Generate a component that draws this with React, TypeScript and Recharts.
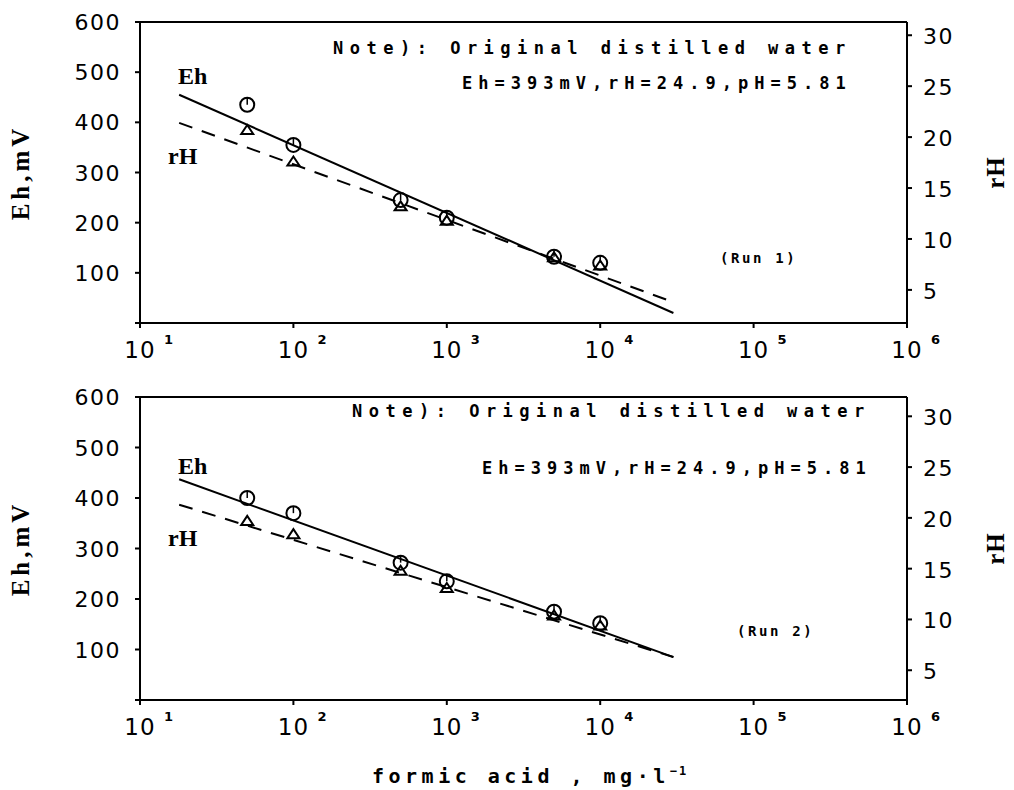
import React from 'react';
import {
  ComposedChart,
  Line,
  Scatter,
  XAxis,
  YAxis,
  ReferenceLine,
} from 'recharts';

// formic acid concentration, mg/l (log axis)
const xTicks = [10, 100, 1000, 10000, 100000, 1000000];
const concentrations = [50, 100, 500, 1000, 5000, 10000];
const fitRange = [18, 30000];

const ehTicks = [0, 100, 200, 300, 400, 500, 600];
const rhTicks = [5, 10, 15, 20, 25, 30];

// Run 1
const ehRun1 = [435, 355, 245, 210, 132, 120];
const rhRun1 = [20.7, 17.6, 13.2, 11.8, 8.2, 7.4];
const ehFitRun1 = [455, 20];
const rhFitRun1 = [21.4, 3.8];

// Run 2
const ehRun2 = [400, 370, 272, 235, 175, 152];
const rhRun2 = [19.7, 18.4, 14.8, 13.1, 10.4, 9.4];
const ehFitRun2 = [437, 85];
const rhFitRun2 = [21.3, 6.3];

const toPoints = (xs: number[], ys: number[]) => xs.map((x, i) => ({ x, y: ys[i] }));

const monoBold = '"DejaVu Sans Mono", monospace';
const serifBold = '"Liberation Serif", serif';
const tickFont = '"DejaVu Sans", sans-serif';

const CircleMark = (props: any) => {
  const { cx, cy } = props;
  if (cx == null || cy == null) return null;
  return (
    <g>
      <circle cx={cx} cy={cy} r={7} fill="none" stroke="#000" strokeWidth={2} />
      <line x1={cx} y1={cy - 7} x2={cx} y2={cy} stroke="#000" strokeWidth={1.5} />
    </g>
  );
};

const TriangleMark = (props: any) => {
  const { cx, cy } = props;
  if (cx == null || cy == null) return null;
  return (
    <polygon
      points={`${cx},${cy - 5} ${cx - 6},${cy + 4} ${cx + 6},${cy + 4}`}
      fill="none"
      stroke="#000"
      strokeWidth={2}
    />
  );
};

const PowerTick = (props: any) => {
  const { x, y, payload } = props;
  const exp = Math.round(Math.log10(payload.value));
  return (
    <g>
      <text x={x} y={y + 28} textAnchor="middle" fontFamily={tickFont} fontSize={23} letterSpacing={1} fill="#000">
        10
      </text>
      <text x={x + 24} y={y + 14} fontFamily={tickFont} fontSize={13} fontWeight="bold" fill="#000">
        {exp}
      </text>
    </g>
  );
};

const EhTick = (props: any) => {
  const { x, y, payload } = props;
  if (payload.value === 0) return null;
  return (
    <text x={x - 12} y={y + 8} textAnchor="end" fontFamily={tickFont} fontSize={22} letterSpacing={1.5} fill="#000">
      {payload.value}
    </text>
  );
};

const RhTick = (props: any) => {
  const { x, y, payload } = props;
  return (
    <text x={x + 9} y={y + 9} textAnchor="start" fontFamily={tickFont} fontSize={22} letterSpacing={1.5} fill="#000">
      {payload.value}
    </text>
  );
};

interface PanelProps {
  top: number;
  height: number;
  margin: { top: number; right: number; bottom: number; left: number };
  eh: number[];
  rh: number[];
  ehFit: number[];
  rhFit: number[];
  rhDomain: number[];
  run: string;
  notePos: { noteX: number; noteY: number; valX: number; valY: number; runX: number; runY: number; ehY: number; rhY: number };
}

function Panel({ top, height, margin, eh, rh, ehFit, rhFit, rhDomain, run, notePos }: PanelProps) {
  const textBase: React.CSSProperties = { position: 'absolute', whiteSpace: 'nowrap', color: '#000', lineHeight: 1 };
  return (
    <div style={{ position: 'absolute', left: 0, top, width: 1014, height }}>
      <ComposedChart width={1014} height={height} margin={margin}>
        <XAxis
          xAxisId="x"
          type="number"
          dataKey="x"
          scale="log"
          domain={[10, 1000000]}
          allowDataOverflow
          ticks={xTicks}
          tick={<PowerTick />}
          tickSize={5}
          height={40}
          stroke="#000"
          strokeWidth={2}
          interval={0}
        />
        <YAxis
          yAxisId="left"
          type="number"
          domain={[0, 600]}
          ticks={ehTicks}
          tick={<EhTick />}
          tickSize={5}
          width={120}
          stroke="#000"
          strokeWidth={2}
          interval={0}
          label={{
            value: 'Eh,mV',
            angle: -90,
            position: 'insideLeft',
            offset: 0,
            style: { fontFamily: serifBold, fontWeight: 'bold', fontSize: 25, letterSpacing: 4, fill: '#000', textAnchor: 'middle' },
          }}
        />
        <YAxis
          yAxisId="right"
          orientation="right"
          type="number"
          domain={rhDomain}
          allowDataOverflow
          ticks={rhTicks}
          tick={<RhTick />}
          tickSize={5}
          width={100}
          stroke="#000"
          strokeWidth={2}
          interval={0}
          label={{
            value: 'rH',
            angle: -90,
            position: 'insideRight',
            offset: 12,
            style: { fontFamily: serifBold, fontWeight: 'bold', fontSize: 25, letterSpacing: 1, fill: '#000', textAnchor: 'middle' },
          }}
        />
        <ReferenceLine xAxisId="x" yAxisId="left" y={600} stroke="#000" strokeWidth={2} />
        <Line
          xAxisId="x"
          yAxisId="left"
          data={toPoints(fitRange, ehFit)}
          dataKey="y"
          type="linear"
          stroke="#000"
          strokeWidth={2}
          dot={false}
          activeDot={false}
          isAnimationActive={false}
        />
        <Line
          xAxisId="x"
          yAxisId="right"
          data={toPoints(fitRange, rhFit)}
          dataKey="y"
          type="linear"
          stroke="#000"
          strokeWidth={2}
          strokeDasharray="14 10"
          dot={false}
          activeDot={false}
          isAnimationActive={false}
        />
        <Scatter
          xAxisId="x"
          yAxisId="left"
          data={toPoints(concentrations, eh)}
          dataKey="y"
          shape={<CircleMark />}
          isAnimationActive={false}
        />
        <Scatter
          xAxisId="x"
          yAxisId="right"
          data={toPoints(concentrations, rh)}
          dataKey="y"
          shape={<TriangleMark />}
          isAnimationActive={false}
        />
      </ComposedChart>
      <div style={{ ...textBase, left: 178, top: notePos.ehY, fontFamily: serifBold, fontWeight: 'bold', fontSize: 24 }}>Eh</div>
      <div style={{ ...textBase, left: 168, top: notePos.rhY, fontFamily: serifBold, fontWeight: 'bold', fontSize: 24 }}>rH</div>
      <div style={{ ...textBase, left: notePos.noteX, top: notePos.noteY, fontFamily: monoBold, fontWeight: 'bold', fontSize: 17, letterSpacing: 6.5 }}>
        {'Note):  Original distilled water'}
      </div>
      <div style={{ ...textBase, left: notePos.valX, top: notePos.valY, fontFamily: monoBold, fontWeight: 'bold', fontSize: 17, letterSpacing: 6 }}>
        Eh=393mV,rH=24.9,pH=5.81
      </div>
      <div style={{ ...textBase, left: notePos.runX, top: notePos.runY, fontFamily: monoBold, fontWeight: 'bold', fontSize: 14, letterSpacing: 2.6 }}>
        {run}
      </div>
    </div>
  );
}

export default function App() {
  return (
    <div style={{ position: 'absolute', left: 0, top: 0, width: 1014, height: 790, background: '#fff', overflow: 'hidden' }}>
      <Panel
        top={0}
        height={380}
        margin={{ top: 22, right: 7, bottom: 17, left: 20 }}
        eh={ehRun1}
        rh={rhRun1}
        ehFit={ehFitRun1}
        rhFit={rhFitRun1}
        rhDomain={[1.75, 31.3]}
        run="(Run 1)"
        notePos={{ noteX: 333, noteY: 40, valX: 462, valY: 75, runX: 720, runY: 251, ehY: 64, rhY: 144 }}
      />
      <Panel
        top={380}
        height={410}
        margin={{ top: 17, right: 7, bottom: 50, left: 20 }}
        eh={ehRun2}
        rh={rhRun2}
        ehFit={ehFitRun2}
        rhFit={rhFitRun2}
        rhDomain={[2.07, 31.9]}
        run="(Run 2)"
        notePos={{ noteX: 352, noteY: 23, valX: 482, valY: 80, runX: 737, runY: 244, ehY: 74, rhY: 146 }}
      />
      <div
        style={{
          position: 'absolute',
          left: 372,
          top: 765,
          whiteSpace: 'nowrap',
          fontFamily: monoBold,
          fontWeight: 'bold',
          fontSize: 20,
          letterSpacing: 4.5,
          color: '#000',
          lineHeight: 1,
        }}
      >
        formic acid , mg·l<sup style={{ fontSize: 12, letterSpacing: 2 }}>−1</sup>
      </div>
    </div>
  );
}
